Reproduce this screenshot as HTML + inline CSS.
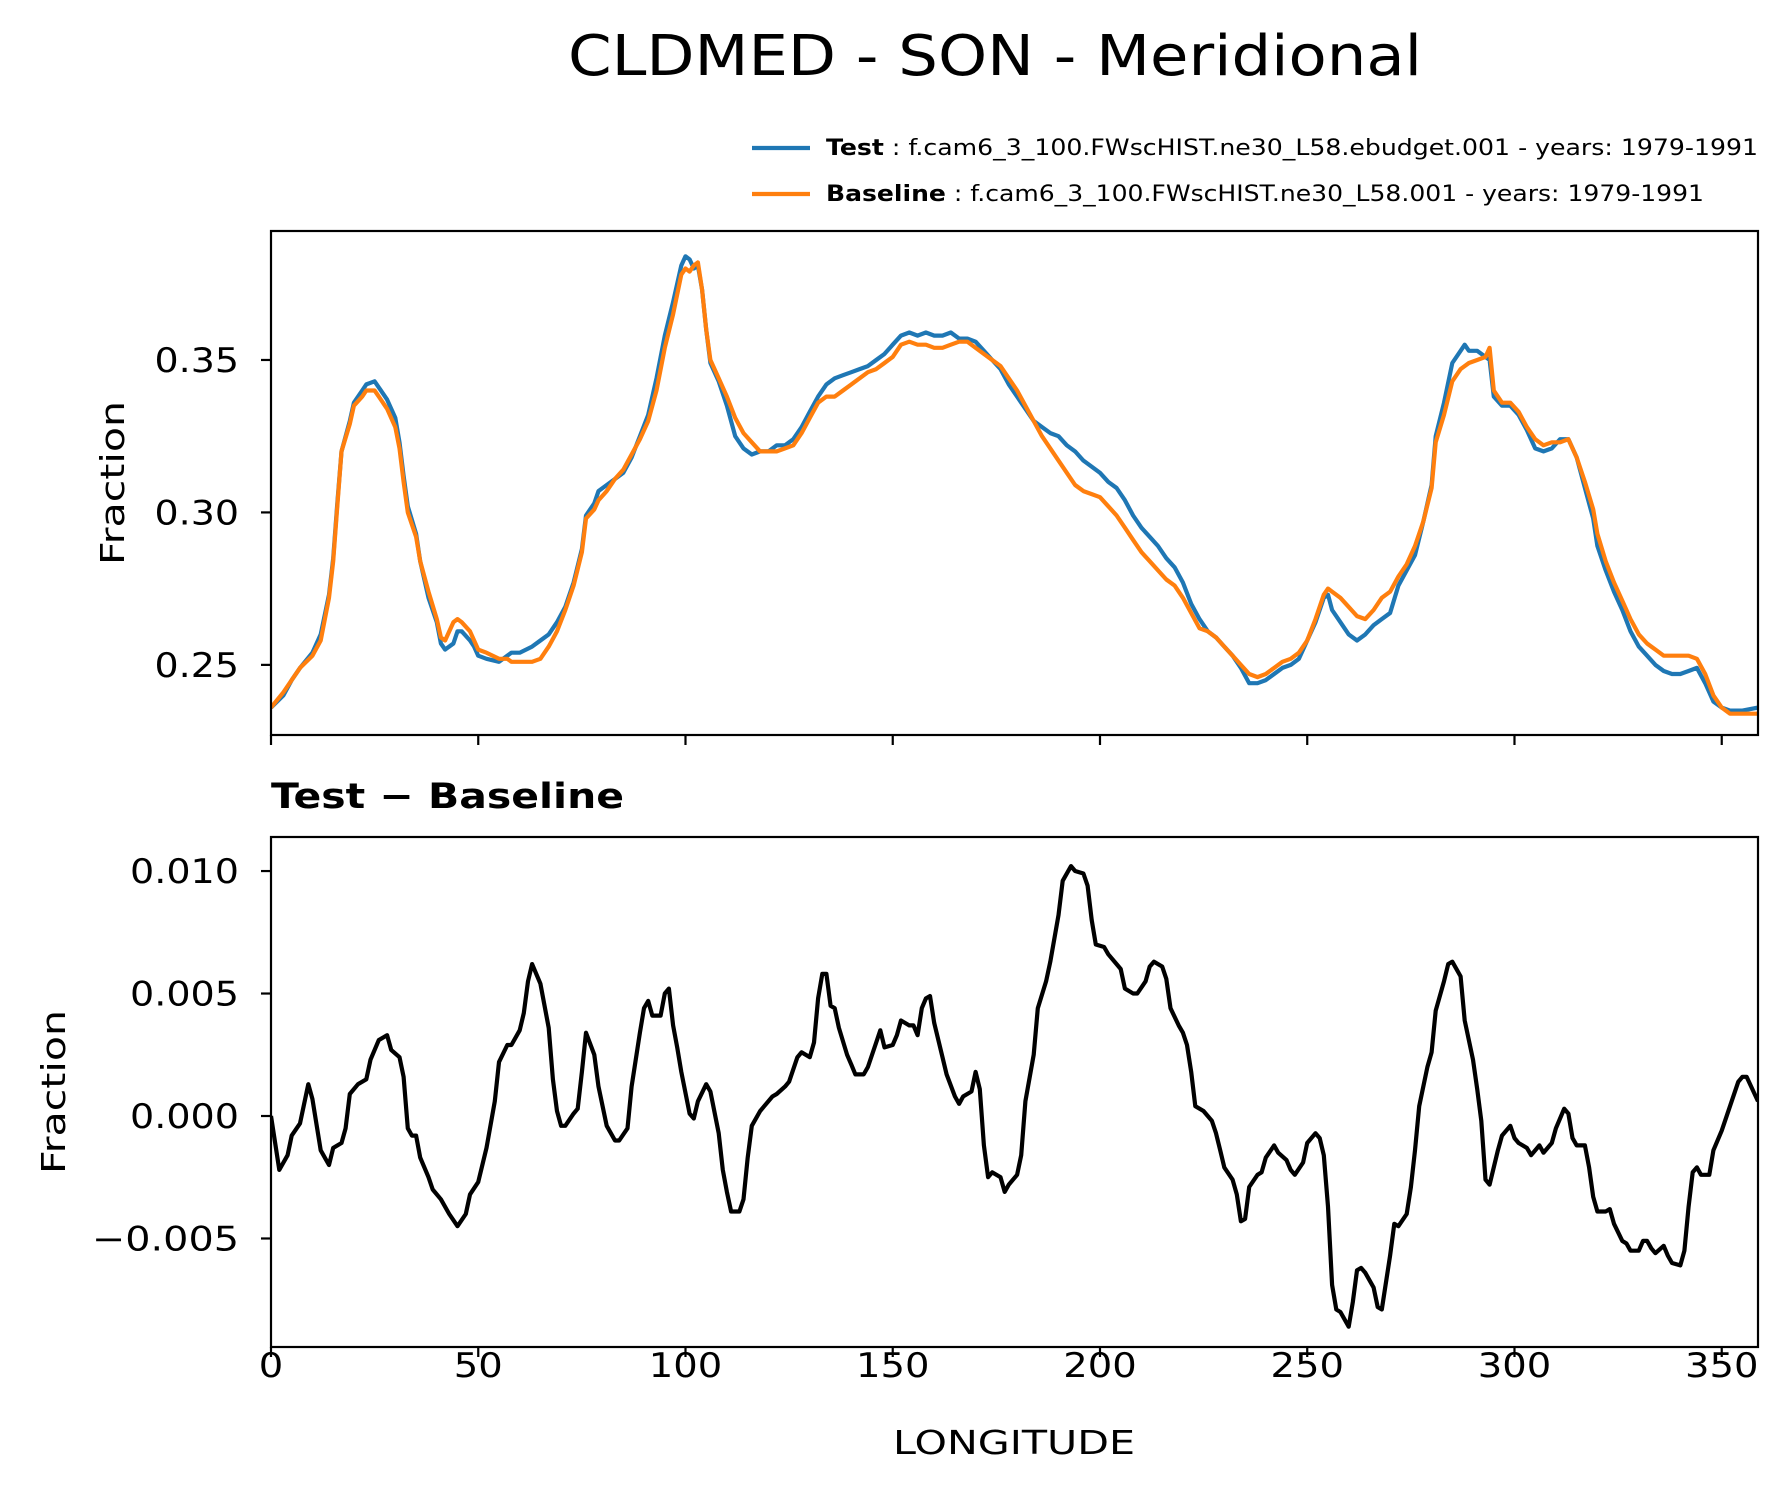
<!DOCTYPE html>
<html><head><meta charset="utf-8">
<style>
html,body{margin:0;padding:0;background:#fff;}
svg{display:block;font-family:"DejaVu Sans","Liberation Sans",sans-serif;}
</style></head>
<body>
<svg id="chart" width="1791" height="1496" viewBox="0 0 1791 1496" xmlns="http://www.w3.org/2000/svg">
<rect width="1791" height="1496" fill="#fff"/>
<text x="568" y="75" font-size="56" textLength="854" lengthAdjust="spacingAndGlyphs">CLDMED - SON - Meridional</text>
<g>
<line x1="752" y1="148" x2="810" y2="148" stroke="#1f77b4" stroke-width="4.2"/>
<text x="826" y="155" font-size="22" textLength="932" lengthAdjust="spacingAndGlyphs"><tspan font-weight="bold">Test</tspan> : f.cam6_3_100.FWscHIST.ne30_L58.ebudget.001 - years: 1979-1991</text>
<line x1="752" y1="194" x2="810" y2="194" stroke="#ff7f0e" stroke-width="4.2"/>
<text x="826" y="201" font-size="22" textLength="878" lengthAdjust="spacingAndGlyphs"><tspan font-weight="bold">Baseline</tspan> : f.cam6_3_100.FWscHIST.ne30_L58.001 - years: 1979-1991</text>
</g>
<text transform="translate(124,483) rotate(-90)" font-size="33" text-anchor="middle" textLength="164" lengthAdjust="spacingAndGlyphs">Fraction</text>
<text transform="translate(65,1092) rotate(-90)" font-size="33" text-anchor="middle" textLength="164" lengthAdjust="spacingAndGlyphs">Fraction</text>
<text x="271" y="808" font-size="35" font-weight="bold" textLength="353" lengthAdjust="spacingAndGlyphs">Test − Baseline</text>
<text x="1014" y="1454" font-size="33" text-anchor="middle" textLength="242" lengthAdjust="spacingAndGlyphs">LONGITUDE</text>
<g id="topPanel"></g>
<g id="botPanel"></g>
</svg>
<script>
const testLon=[0,3,5,7,10,12,14,15,16,17,19,20,22,23,25,26,28,30,31,32,33,35,36,38,40,41,42,44,45,46,48,49,50,52,55,57,58,60,63,65,67,69,71,73,75,76,78,79,81,83,85,87,89,91,93,95,97,99,100,101,102,103,104,105,106,108,110,112,114,116,118,120,122,124,126,128,130,132,134,136,138,140,142,144,146,148,150,152,154,156,158,160,162,164,166,168,170,172,174,176,178,180,182,184,186,188,190,192,194,196,198,200,202,204,206,208,210,212,214,216,218,220,222,224,226,228,230,232,234,236,238,240,242,244,246,248,250,252,254,255,256,258,260,262,264,266,268,270,272,274,276,278,280,281,283,285,287,288,289,291,293,294,295,297,299,301,303,305,307,309,311,313,315,317,319,320,322,324,326,328,330,332,334,336,338,340,342,344,346,348,350,352,355,358.75];
const testVals=[0.236,0.240,0.245,0.249,0.254,0.260,0.273,0.285,0.303,0.320,0.330,0.336,0.340,0.342,0.343,0.341,0.337,0.331,0.323,0.312,0.302,0.293,0.284,0.272,0.264,0.257,0.255,0.257,0.261,0.261,0.258,0.256,0.253,0.252,0.251,0.253,0.254,0.254,0.256,0.258,0.260,0.264,0.269,0.277,0.288,0.299,0.303,0.307,0.309,0.311,0.313,0.318,0.325,0.332,0.344,0.358,0.369,0.381,0.384,0.383,0.380,0.381,0.373,0.360,0.349,0.343,0.335,0.325,0.321,0.319,0.320,0.320,0.322,0.322,0.324,0.328,0.333,0.338,0.342,0.344,0.345,0.346,0.347,0.348,0.350,0.352,0.355,0.358,0.359,0.358,0.359,0.358,0.358,0.359,0.357,0.357,0.356,0.353,0.350,0.347,0.342,0.338,0.334,0.330,0.328,0.326,0.325,0.322,0.320,0.317,0.315,0.313,0.310,0.308,0.304,0.299,0.295,0.292,0.289,0.285,0.282,0.277,0.270,0.265,0.261,0.259,0.256,0.253,0.249,0.244,0.244,0.245,0.247,0.249,0.250,0.252,0.258,0.264,0.272,0.273,0.268,0.264,0.260,0.258,0.260,0.263,0.265,0.267,0.276,0.281,0.286,0.297,0.309,0.325,0.336,0.349,0.353,0.355,0.353,0.353,0.351,0.350,0.338,0.335,0.335,0.332,0.327,0.321,0.320,0.321,0.324,0.324,0.318,0.308,0.298,0.289,0.281,0.274,0.268,0.261,0.256,0.253,0.250,0.248,0.247,0.247,0.248,0.249,0.244,0.238,0.236,0.235,0.235,0.236];
const baseVals=[0.236,0.241,0.245,0.249,0.253,0.258,0.272,0.284,0.302,0.320,0.329,0.335,0.338,0.340,0.340,0.338,0.334,0.328,0.321,0.310,0.300,0.292,0.284,0.274,0.265,0.259,0.258,0.264,0.265,0.264,0.261,0.258,0.255,0.254,0.252,0.252,0.251,0.251,0.251,0.252,0.256,0.261,0.268,0.276,0.287,0.298,0.301,0.304,0.307,0.311,0.314,0.319,0.324,0.330,0.340,0.354,0.365,0.378,0.380,0.379,0.381,0.382,0.373,0.360,0.350,0.344,0.338,0.331,0.326,0.323,0.320,0.320,0.320,0.321,0.322,0.326,0.331,0.336,0.338,0.338,0.340,0.342,0.344,0.346,0.347,0.349,0.351,0.355,0.356,0.355,0.355,0.354,0.354,0.355,0.356,0.356,0.354,0.352,0.350,0.348,0.344,0.340,0.335,0.330,0.325,0.321,0.317,0.313,0.309,0.307,0.306,0.305,0.302,0.299,0.295,0.291,0.287,0.284,0.281,0.278,0.276,0.272,0.267,0.262,0.261,0.259,0.256,0.253,0.250,0.247,0.246,0.247,0.249,0.251,0.252,0.254,0.258,0.265,0.273,0.275,0.274,0.272,0.269,0.266,0.265,0.268,0.272,0.274,0.279,0.283,0.289,0.297,0.308,0.323,0.332,0.343,0.347,0.348,0.349,0.350,0.351,0.354,0.340,0.336,0.336,0.333,0.328,0.324,0.322,0.323,0.323,0.324,0.318,0.310,0.301,0.293,0.284,0.277,0.271,0.265,0.260,0.257,0.255,0.253,0.253,0.253,0.253,0.252,0.247,0.240,0.236,0.234,0.234,0.234];
const diffLon=[0,2,4,5,7,9,10,12,14,15,17,18,19,21,23,24,26,28,29,31,32,33,34,35,36,38,39,41,43,45,47,48,50,52,54,55,57,58,60,61,62,63,65,67,68,69,70,71,73,74,75,76,78,79,81,83,84,86,87,89,90,91,92,94,95,96,97,98,99,101,102,103,105,106,108,109,110,111,113,114,115,116,118,119,121,122,124,125,127,128,130,131,132,133,134,135,136,137,139,140,141,143,144,146,147,148,150,151,152,154,155,156,157,158,159,160,162,163,165,166,167,169,170,171,172,173,174,176,177,178,180,181,182,184,185,187,188,190,191,193,194,196,197,198,199,201,202,204,205,206,208,209,211,212,213,215,216,217,219,220,221,222,223,225,227,228,229,230,232,233,234,235,236,238,239,240,242,243,245,246,247,249,250,252,253,254,255,256,257,258,260,261,262,263,264,266,267,268,270,271,272,274,275,276,277,279,280,281,283,284,285,287,288,290,291,292,293,294,296,297,299,300,301,303,304,306,307,309,310,312,313,314,315,317,318,319,320,322,323,324,326,327,328,330,331,332,333,334,336,337,338,340,341,342,343,344,345,347,348,350,352,354,355,356,358.75];
const diffVals=[0.0000,-0.0022,-0.0016,-0.0008,-0.0003,0.0013,0.0007,-0.0014,-0.0020,-0.0013,-0.0011,-0.0005,0.0009,0.0013,0.0015,0.0023,0.0031,0.0033,0.0027,0.0024,0.0016,-0.0005,-0.0008,-0.0008,-0.0017,-0.0025,-0.0030,-0.0034,-0.0040,-0.0045,-0.0040,-0.0032,-0.0027,-0.0013,0.0006,0.0022,0.0029,0.0029,0.0035,0.0042,0.0055,0.0062,0.0054,0.0036,0.0015,0.0002,-0.0004,-0.0004,0.0001,0.0003,0.0018,0.0034,0.0025,0.0012,-0.0004,-0.0010,-0.0010,-0.0005,0.0012,0.0034,0.0044,0.0047,0.0041,0.0041,0.0050,0.0052,0.0037,0.0028,0.0018,0.0001,-0.0001,0.0006,0.0013,0.0010,-0.0007,-0.0022,-0.0031,-0.0039,-0.0039,-0.0034,-0.0017,-0.0004,0.0002,0.0004,0.0008,0.0009,0.0012,0.0014,0.0024,0.0026,0.0024,0.0030,0.0048,0.0058,0.0058,0.0045,0.0044,0.0036,0.0025,0.0021,0.0017,0.0017,0.0020,0.0030,0.0035,0.0028,0.0029,0.0033,0.0039,0.0037,0.0037,0.0033,0.0044,0.0048,0.0049,0.0038,0.0024,0.0017,0.0008,0.0005,0.0008,0.0010,0.0018,0.0011,-0.0012,-0.0025,-0.0023,-0.0025,-0.0031,-0.0028,-0.0024,-0.0016,0.0006,0.0025,0.0044,0.0055,0.0063,0.0082,0.0096,0.0102,0.0100,0.0099,0.0094,0.0080,0.0070,0.0069,0.0066,0.0062,0.0060,0.0052,0.0050,0.0050,0.0055,0.0061,0.0063,0.0061,0.0056,0.0044,0.0037,0.0034,0.0029,0.0018,0.0004,0.0002,-0.0002,-0.0007,-0.0014,-0.0021,-0.0026,-0.0032,-0.0043,-0.0042,-0.0029,-0.0024,-0.0023,-0.0017,-0.0012,-0.0015,-0.0018,-0.0022,-0.0024,-0.0019,-0.0011,-0.0007,-0.0009,-0.0016,-0.0037,-0.0069,-0.0079,-0.0080,-0.0086,-0.0076,-0.0063,-0.0062,-0.0064,-0.0070,-0.0078,-0.0079,-0.0057,-0.0044,-0.0045,-0.0040,-0.0029,-0.0014,0.0004,0.0020,0.0026,0.0043,0.0055,0.0062,0.0063,0.0057,0.0039,0.0023,0.0011,-0.0002,-0.0026,-0.0028,-0.0014,-0.0008,-0.0004,-0.0009,-0.0011,-0.0013,-0.0016,-0.0012,-0.0015,-0.0011,-0.0005,0.0003,0.0001,-0.0009,-0.0012,-0.0012,-0.0021,-0.0033,-0.0039,-0.0039,-0.0038,-0.0044,-0.0051,-0.0052,-0.0055,-0.0055,-0.0051,-0.0051,-0.0054,-0.0056,-0.0053,-0.0057,-0.0060,-0.0061,-0.0055,-0.0037,-0.0023,-0.0021,-0.0024,-0.0024,-0.0014,-0.0006,0.0004,0.0014,0.0016,0.0016,0.0006];
const xTicks=[0,50,100,150,200,250,300,350];
const topYTicks=[0.25,0.30,0.35];
const topYLabels=["0.25","0.30","0.35"];
const botYTicks=[-0.005,0,0.005,0.010];
const botYLabels=["\u22120.005","0.000","0.005","0.010"];

const NS="http://www.w3.org/2000/svg";
const L=271,R=1758,XMIN=0,XMAX=358.75;
const xs=v=>L+(v-XMIN)/(XMAX-XMIN)*(R-L);
const topT=231,topB=735,topMin=0.2270,topMax=0.3923;
const ysTop=v=>topB-(v-topMin)/(topMax-topMin)*(topB-topT);
const botT=837,botB=1347,botMin=-0.00943,botMax=0.01139;
const ysBot=v=>botB-(v-botMin)/(botMax-botMin)*(botB-botT);
function mk(tag,attrs,parent){const e=document.createElementNS(NS,tag);for(const k in attrs)e.setAttribute(k,attrs[k]);parent.appendChild(e);return e;}
function labW(s){let w=0;for(const c of s){if(c==='.')w+=11;else if(c==='\u2212')w+=38;else w+=24.5;}return w;}
function panel(g,T,B,ys,yt,yl,showX,nm){
  for(let i=0;i<yt.length;i++){const y=ys(yt[i]);
    const t=mk('line',{x1:L-10,x2:L,y1:y,y2:y,stroke:'#000','stroke-width':2.2},g);
    
    
    const tx=mk('text',{x:L-32,y:y+12,'font-size':34,'text-anchor':'end',textLength:labW(yl[i]),lengthAdjust:'spacingAndGlyphs'},g);tx.textContent=yl[i];
    
    
  }
  for(const v of xTicks){const x=xs(v);
    const t=mk('line',{x1:x,x2:x,y1:B,y2:B+10,stroke:'#000','stroke-width':2.2},g);
    
    
    if(showX){const s=String(v);const tx=mk('text',{x:x,y:B+30,'font-size':34,'text-anchor':'middle',textLength:labW(s),lengthAdjust:'spacingAndGlyphs'},g);tx.textContent=s;
      
      }
  }
}
function line(g,xv,yv,ys,color,nm){
  const d=xv.map((x,i)=>(i?'L':'M')+xs(x).toFixed(1)+','+ys(yv[i]).toFixed(1)).join('');
  const p=mk('path',{d:d,fill:'none',stroke:color,'stroke-width':4.2,'stroke-linejoin':'round'},g);
  
  
}
const topG=document.getElementById('topPanel');


const botG=document.getElementById('botPanel');


const cpT=mk('clipPath',{id:'cpT'},topG);mk('rect',{x:L,y:topT,width:R-L,height:topB-topT},cpT);
const cpB=mk('clipPath',{id:'cpB'},botG);mk('rect',{x:L,y:botT,width:R-L,height:botB-botT},cpB);
const gT=mk('g',{'clip-path':'url(#cpT)'},topG);
line(gT,testLon,testVals,ysTop,'#1f77b4','test-line');
line(gT,testLon,baseVals,ysTop,'#ff7f0e','baseline-line');
const gB=mk('g',{'clip-path':'url(#cpB)'},botG);
line(gB,diffLon,diffVals,ysBot,'#000','difference-line');
panel(topG,topT,topB,ysTop,topYTicks,topYLabels,false,'top');
panel(botG,botT,botB,ysBot,botYTicks,botYLabels,true,'bottom');
const f1=mk('rect',{x:L,y:topT,width:R-L,height:topB-topT,fill:'none',stroke:'#000','stroke-width':2.2},topG);


const f2=mk('rect',{x:L,y:botT,width:R-L,height:botB-botT,fill:'none',stroke:'#000','stroke-width':2.2},botG);


</script>
</body></html>
